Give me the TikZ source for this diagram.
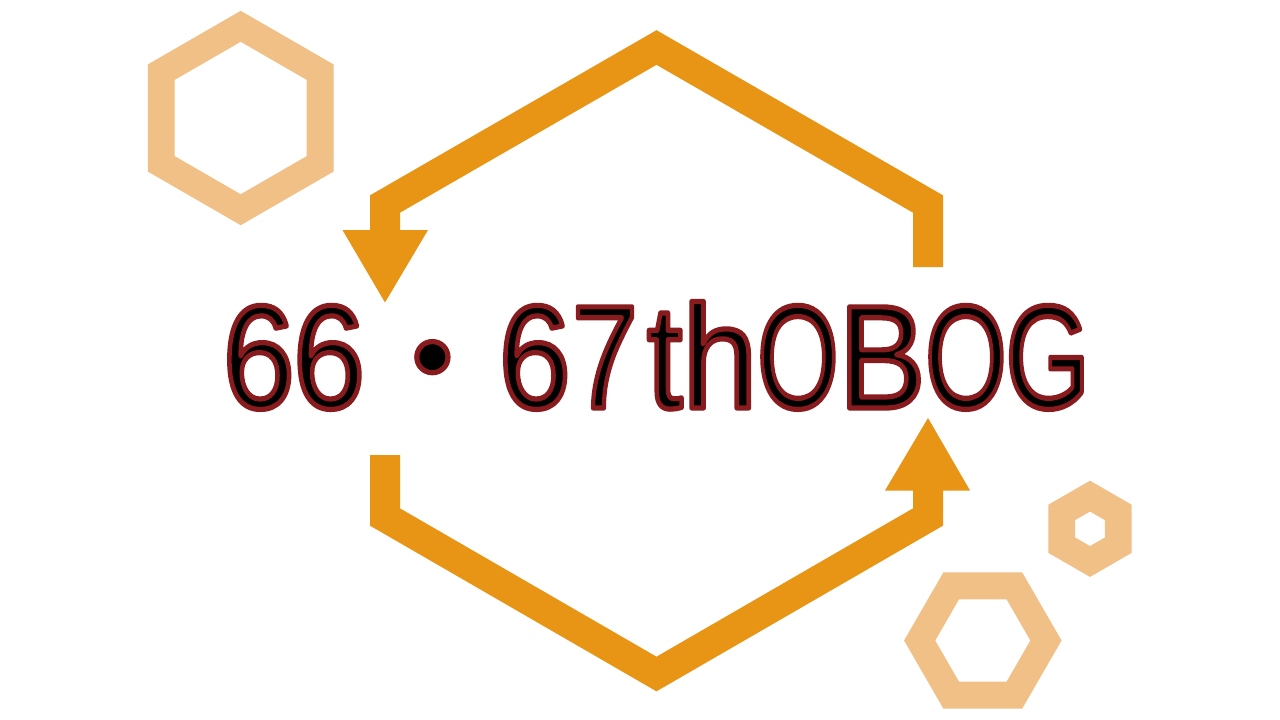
\documentclass[tikz,border=0pt]{standalone}
\usepackage{fontspec}
\setmainfont{Liberation Sans}
\newfontfamily\cjkfont{Noto Sans CJK JP}
\definecolor{orangeA}{RGB}{232,148,20}
\definecolor{lightA}{RGB}{241,192,134}
\definecolor{outlA}{RGB}{135,27,30}
% one glyph, placed at an offset and narrowed
\newcommand{\gl}[3]{\rlap{\kern#1pt\scalebox{#2}[1]{#3}}}
\newcommand{\titleseq}{\hbox to 870pt{%
  \gl{2.6}{0.88}{6}\gl{72.9}{0.88}{6}%
  \rlap{\kern212.2pt\makebox[0pt][c]{\raisebox{-5pt}{\cjkfont ・}}}%
  \gl{278.6}{0.88}{6}\gl{351.6}{0.81}{7}\gl{426.8}{0.87}{t}\gl{462.1}{0.92}{h}%
  \gl{536.9}{0.715}{O}\gl{618.5}{0.885}{B}\gl{704.9}{0.715}{O}\gl{785.2}{0.74}{G}\hfil}}
\newcommand{\strokeon}{\special{pdf:literal direct 1 Tr 5.2 w 1 j}}
\newcommand{\strokeoff}{\special{pdf:literal direct 0 Tr}}
\tikzset{
  bigarrow/.style={draw=orangeA, line width=30pt, line join=miter, line cap=butt},
  arrowtip/.style={fill=orangeA, draw=none},
  smallhex/.style={draw=lightA, line join=miter},
}
\begin{document}
\begin{tikzpicture}[x=1pt,y=-1pt]
\useasboundingbox (0,0) rectangle (1280,720);
\fill[white] (0,0) rectangle (1280,720);
% top-left hexagon
\coordinate (h1) at (240.7,118);
\draw[smallhex, line width=26.8pt] (h1) +(90:91.7) -- +(150:91.7) -- +(210:91.7) -- +(270:91.7) -- +(330:91.7) -- +(30:91.7) -- cycle;
% small right hexagon
\coordinate (h2) at (1090,528.8);
\draw[smallhex, line width=26.7pt] (h2) +(90:32.7) -- +(150:32.7) -- +(210:32.7) -- +(270:32.7) -- +(330:32.7) -- +(30:32.7) -- cycle;
% bottom-right flat hexagon
\coordinate (h3) at (982.8,640.5);
\draw[smallhex, line width=27pt] (h3) +(0:63.15) -- +(60:63.15) -- +(120:63.15) -- +(180:63.15) -- +(240:63.15) -- +(300:63.15) -- cycle;
% big cycle arrows
\coordinate (tR) at (928,267);
\coordinate (tRc) at (928,204);
\coordinate (tA) at (656.5,47.5);
\coordinate (tLc) at (385,204);
\coordinate (tL) at (385,231);
\draw[bigarrow] (tR) -- (tRc) -- (tA) -- (tLc) -- (tL);
\fill[arrowtip] (342.5,230) -- (428,230) -- (385,302.5) -- cycle;
\coordinate (bL) at (385,455);
\coordinate (bLc) at (385,517);
\coordinate (bA) at (656.5,674);
\coordinate (bRc) at (928,517);
\coordinate (bR) at (928,489);
\draw[bigarrow] (bL) -- (bLc) -- (bA) -- (bRc) -- (bR);
\fill[arrowtip] (885,490.5) -- (970,490.5) -- (928,418) -- cycle;
% title: black fill, dark red outline stroked on top
\node[anchor=base west, inner sep=0pt, font=\fontsize{147}{150}\selectfont] (title) at (220,408)
  {\rlap{\color{black}\titleseq}{\color{outlA}\strokeon\titleseq\strokeoff}};
\end{tikzpicture}
\end{document}
